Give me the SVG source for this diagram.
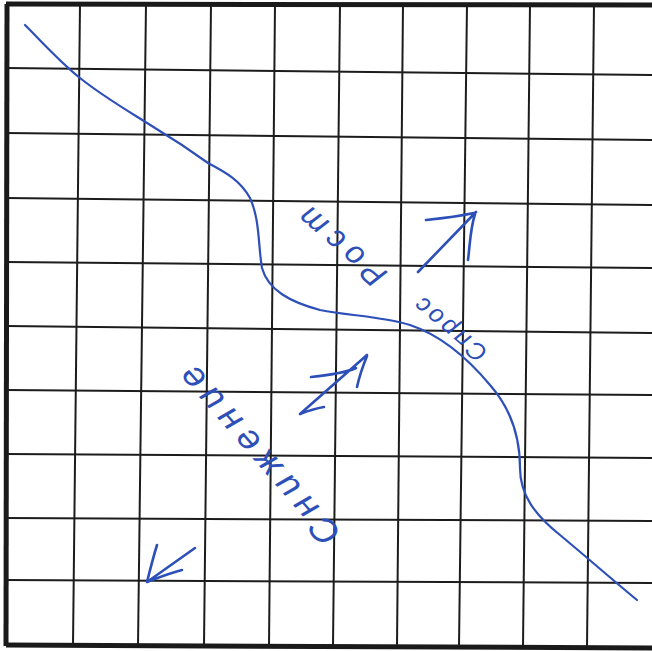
<svg xmlns="http://www.w3.org/2000/svg" width="652" height="651" viewBox="0 0 652 651">
<style>
.g{stroke:#1c1c1c;stroke-width:2;fill:none}
.b{stroke:#1a1a1a;stroke-width:5;fill:none}
.ink{stroke:#2d4fb8;fill:none;stroke-linecap:round;stroke-linejoin:round}
.t{fill:#2d4fb8;font-family:"Liberation Sans","DejaVu Sans",sans-serif;font-style:italic;text-anchor:middle;dominant-baseline:central}
</style>
<rect width="652" height="651" fill="#fff"/>
<g id="grid">
<line class="b" x1="6" y1="4" x2="652" y2="5"/>
<line class="b" x1="7" y1="4" x2="6" y2="646"/>
<line class="b" x1="6" y1="645" x2="652" y2="648"/>
<line class="g" x1="6" y1="68" x2="652" y2="75"/>
<line class="g" x1="6" y1="133" x2="652" y2="140"/>
<line class="g" x1="6" y1="198" x2="652" y2="205"/>
<line class="g" x1="6" y1="262" x2="652" y2="268"/>
<line class="g" x1="6" y1="326" x2="652" y2="333"/>
<line class="g" x1="6" y1="390" x2="652" y2="395"/>
<line class="g" x1="6" y1="454" x2="652" y2="458"/>
<line class="g" x1="6" y1="518" x2="652" y2="521"/>
<line class="g" x1="6" y1="580" x2="652" y2="583"/>
<line class="g" x1="80" y1="4" x2="73" y2="646"/>
<line class="g" x1="146" y1="4" x2="138" y2="646"/>
<line class="g" x1="211" y1="4" x2="204" y2="646"/>
<line class="g" x1="275" y1="4" x2="269" y2="646"/>
<line class="g" x1="340" y1="4" x2="333" y2="646"/>
<line class="g" x1="403" y1="4" x2="397" y2="646"/>
<line class="g" x1="467" y1="4" x2="459" y2="647"/>
<line class="g" x1="530" y1="4" x2="523" y2="647"/>
<line class="g" x1="594" y1="4" x2="587" y2="647"/>
</g>
<g id="curve">
<path class="ink" stroke-width="2.2" d="M25,25 C45,45 60,62 80,78 C105,98 130,112 155,128 C175,140 190,150 208,163 C225,172 240,180 250,198 C260,220 258,245 262,268 C268,290 290,302 320,310 C350,316 380,316 410,325 C440,335 465,355 490,385 C512,410 520,440 520,468 C520,495 535,515 560,535 C590,560 615,582 637,600"/>
</g>
<g id="connectors">
<g id="arrow-up-right-top">
<path class="ink" stroke-width="2.6" d="M418,272 L476,212 M426,220 C445,218 460,216 474,213 M475,214 C470,230 470,245 468,260"/>
</g>
<g id="arrow-up-right-middle">
<path class="ink" stroke-width="2.6" d="M300,414 L367,355 M311,377 C330,375 345,373 356,368 M367,356 C362,368 359,378 357,387 M300,414 C310,410 318,408 324,407"/>
</g>
<g id="arrow-down-left">
<path class="ink" stroke-width="2.6" d="M195,548 L147,582 M147,582 C150,570 153,558 157,545 M147,582 C160,577 170,573 182,570"/>
</g>
</g>
<g id="label-rost">
<text class="t" font-size="32" textLength="104" lengthAdjust="spacing" transform="translate(342,247) rotate(221)">Рост</text>
</g>
<g id="label-spros">
<text class="t" font-size="25" textLength="86" lengthAdjust="spacing" transform="translate(450,330) rotate(220)">Спрос</text>
</g>
<g id="label-snizhenie">
<text class="t" font-size="36" textLength="225" lengthAdjust="spacing" transform="translate(259,456) rotate(229)">Снижение</text>
</g>
</svg>
